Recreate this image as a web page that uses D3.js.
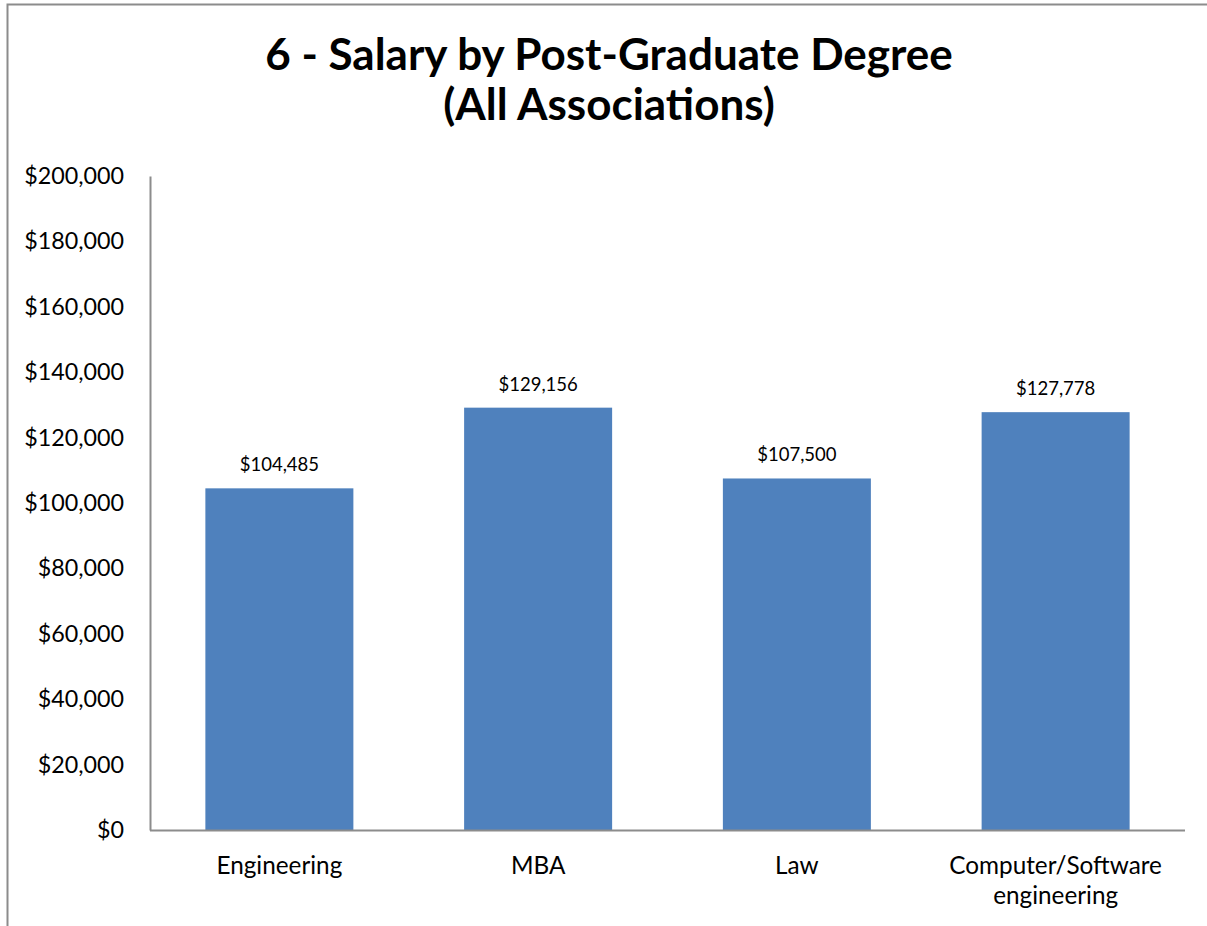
<!DOCTYPE html>
<html><head><meta charset="utf-8">
<script src="https://cdn.jsdelivr.net/npm/d3@7"></script>
<style>body{margin:0;background:#fff}svg{display:block}</style>
</head><body><svg id="c" width="1207" height="926"></svg>
<script>
const categories = ["Engineering", "MBA", "Law", "Computer/Software engineering"];
const salaries = [104485, 129156, 107500, 127778];
const yTicks = [0, 20000, 40000, 60000, 80000, 100000, 120000, 140000, 160000, 180000, 200000];
const titleLines = ["6 - Salary by Post-Graduate Degree", "(All Associations)"];

const svg = d3.select("#c");
const font = "Lato, 'Open Sans', sans-serif";
// chart border (cut off at right and bottom)
svg.append("path").attr("d","M7.5,926 V4.5 H1207").attr("fill","none").attr("stroke","#8c8c8c").attr("stroke-width",2);

const m = {l:150, r:1185, t:176, b:830};
const x = d3.scaleBand().domain(categories).range([m.l, m.r]).paddingInner(0.428).paddingOuter(0.214);
const y = d3.scaleLinear().domain([0,200000]).range([m.b, m.t]);

svg.selectAll("text.title").data(titleLines).join("text").attr("class","title")
  .attr("x", 609).attr("y",(d,i)=>70+i*50).attr("text-anchor","middle")
  .attr("font-family",font).attr("font-weight","bold").attr("font-size",44).attr("fill","#000").text(d=>d);

svg.selectAll("rect.bar").data(salaries).join("rect").attr("class","bar")
  .attr("x",(d,i)=>x(categories[i])).attr("width",x.bandwidth())
  .attr("y",d=>y(d)).attr("height",d=>y(0)-y(d)).attr("fill","#4f81bd");

svg.selectAll("text.val").data(salaries).join("text").attr("class","val")
  .attr("x",(d,i)=>x(categories[i])+x.bandwidth()/2).attr("y",d=>y(d)-17)
  .attr("text-anchor","middle").attr("font-family",font).attr("font-size",18.5).attr("fill","#000")
  .text(d=>"$"+d3.format(",")(d));

const yAxis = d3.axisLeft(y).tickValues(yTicks).tickSize(0).tickPadding(26).tickFormat(d=>"$"+d3.format(",")(d));
const gy = svg.append("g").attr("transform",`translate(${m.l},0)`).call(yAxis);
gy.select(".domain").attr("stroke","#8c8c8c").attr("stroke-width",2);
gy.selectAll("text").attr("font-family",font).attr("font-size",23.3).attr("fill","#000");

const xAxis = d3.axisBottom(x).tickSize(0).tickPadding(0);
const gx = svg.append("g").attr("transform",`translate(0,${m.b})`).call(xAxis);
gx.select(".domain").attr("d",`M${m.l},0.5H${m.r}`).attr("stroke","#8c8c8c").attr("stroke-width",2);
gx.selectAll(".tick text").attr("font-family",font).attr("font-size",24.3).attr("fill","#000")
  .each(function(d){
    const t=d3.select(this); t.text(null);
    const lines = d==="Computer/Software engineering" ? ["Computer/Software","engineering"] : [d];
    lines.forEach((l,i)=>t.append("tspan").attr("x",0).attr("y",44+i*30).text(l));
  }).attr("dy",null);
</script></body></html>
